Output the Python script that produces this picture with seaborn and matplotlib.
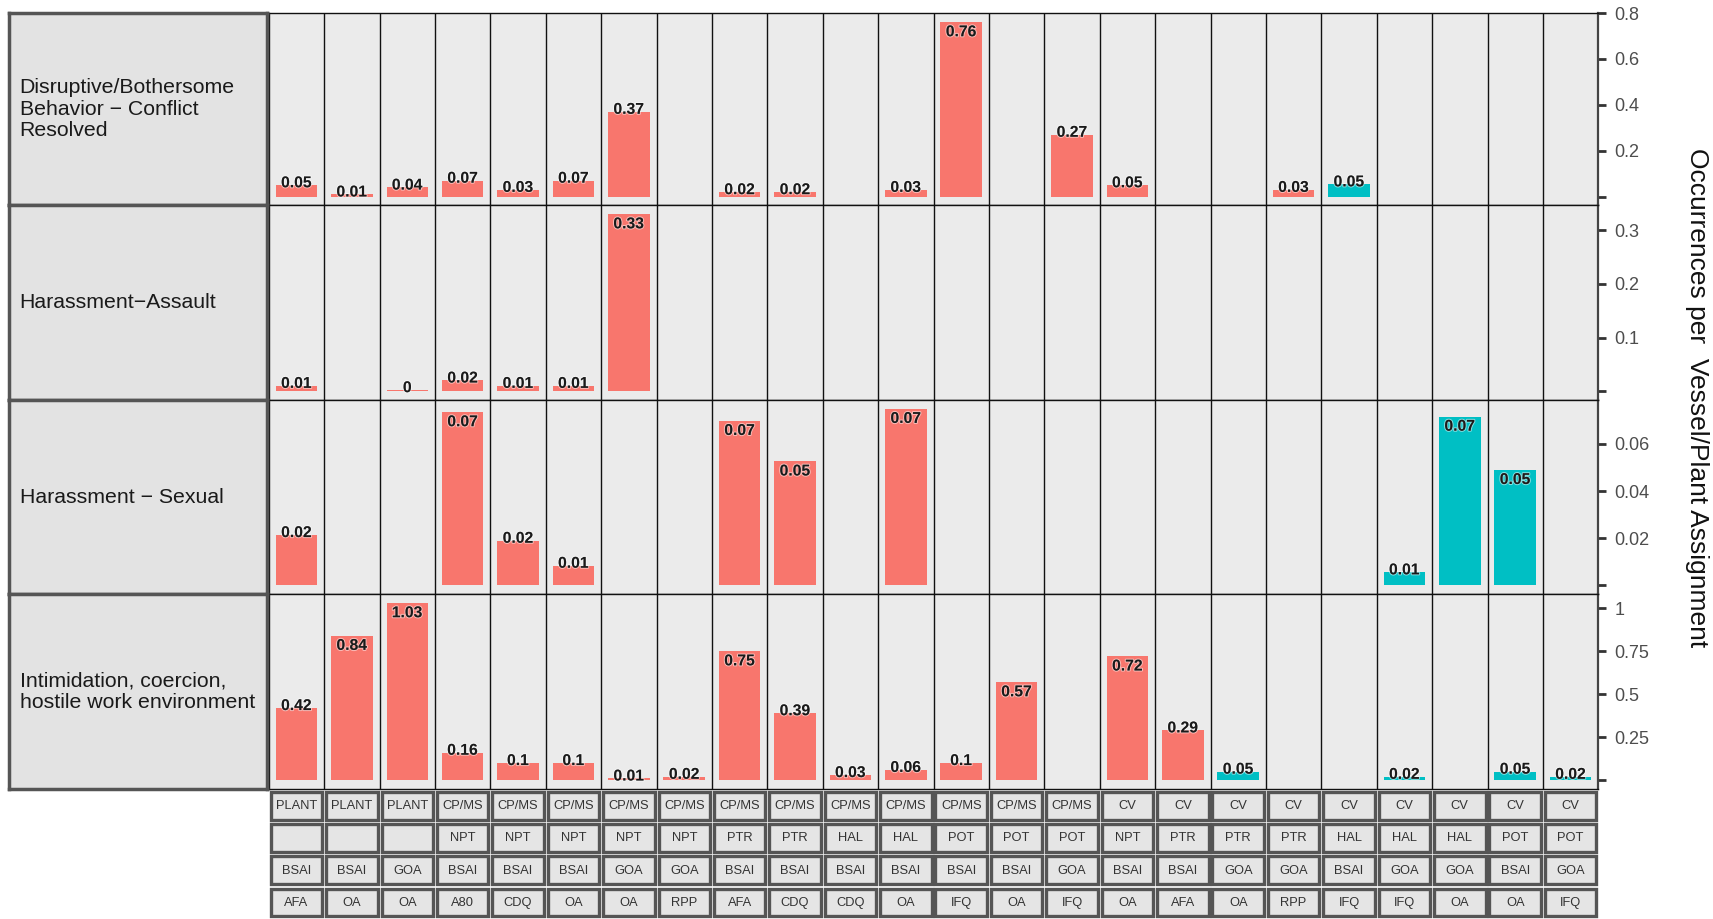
import numpy as np
import pandas as pd
import matplotlib
matplotlib.use("Agg")
import matplotlib.pyplot as plt
import seaborn as sns
from matplotlib.patches import Rectangle
import matplotlib.patheffects as pe

sns.set_theme(style="white")
plt.rcParams['font.family'] = ['Liberation Sans', 'DejaVu Sans']

# ---------------- data ----------------
sector = ["PLANT"] * 3 + ["CP/MS"] * 12 + ["CV"] * 9
gear = ["", "", "", "NPT", "NPT", "NPT", "NPT", "NPT", "PTR", "PTR", "HAL", "HAL",
        "POT", "POT", "POT", "NPT", "PTR", "PTR", "PTR", "HAL", "HAL", "HAL", "POT", "POT"]
area = ["BSAI", "BSAI", "GOA", "BSAI", "BSAI", "BSAI", "GOA", "GOA", "BSAI", "BSAI", "BSAI", "BSAI",
        "BSAI", "BSAI", "GOA", "BSAI", "BSAI", "GOA", "GOA", "BSAI", "GOA", "GOA", "BSAI", "GOA"]
program = ["AFA", "OA", "OA", "A80", "CDQ", "OA", "OA", "RPP", "AFA", "CDQ", "CDQ", "OA",
           "IFQ", "OA", "IFQ", "OA", "AFA", "OA", "RPP", "IFQ", "IFQ", "OA", "OA", "IFQ"]

facet_titles = ["Disruptive/Bothersome\nBehavior \u2212 Conflict\nResolved",
                "Harassment\u2212Assault",
                "Harassment \u2212 Sexual",
                "Intimidation, coercion,\nhostile work environment"]

N = None
disruptive = [0.05, 0.01, 0.04, 0.07, 0.03, 0.07, 0.37, N, 0.02, 0.02, N, 0.03,
              0.76, N, 0.27, 0.05, N, N, 0.03, 0.054, N, N, N, N]
disruptive_grp = ["A"] * 19 + ["B"] + ["A"] * 4

assault = [0.01, N, 0.002, 0.02, 0.01, 0.01, 0.33, N, N, N, N, N,
           N, N, N, N, N, N, N, N, N, N, N, N]
assault_grp = ["A"] * 24

sexual = [0.0214, N, N, 0.0735, 0.019, 0.0084, N, N, 0.0698, 0.0526, N, 0.0749,
          N, N, N, N, N, N, N, N, 0.0056, 0.0716, 0.049, N]
sexual_grp = ["A"] * 20 + ["B", "B", "B", "A"]

intimidation = [0.42, 0.84, 1.03, 0.16, 0.1, 0.1, 0.01, 0.02, 0.75, 0.39, 0.03, 0.06,
                0.1, 0.57, N, 0.72, 0.29, 0.05, N, N, 0.02, N, 0.05, 0.02]
intimidation_grp = ["A"] * 17 + ["B", "A", "A", "B", "A", "B", "B"]

rows_values = [disruptive, assault, sexual, intimidation]
rows_groups = [disruptive_grp, assault_grp, sexual_grp, intimidation_grp]

row_ticks = [[0, 0.2, 0.4, 0.6, 0.8], [0, 0.1, 0.2, 0.3], [0, 0.02, 0.04, 0.06], [0, 0.25, 0.5, 0.75, 1]]
row_ticklabels = [["", "0.2", "0.4", "0.6", "0.8"], ["", "0.1", "0.2", "0.3"],
                  ["", "0.02", "0.04", "0.06"], ["", "0.25", "0.5", "0.75", "1"]]

y_title = "Occurrences per  Vessel/Plant Assignment"
palette = {"A": "#F8766D", "B": "#00BFC4"}

# ---------------- layout ----------------
W, H = 1713, 919
fig = plt.figure(figsize=(W / 100, H / 100), dpi=100)
fig.patch.set_facecolor("white")

PL, PR = 268.8 / W, 1598.3 / W
SL, SR = 8.7 / W, 267.0 / W
row_edges = [13, 205.4, 400, 594.3, 789]
col_ids = [f"c{i:02d}" for i in range(24)]


def fmt(v):
    r = round(v, 2)
    s = f"{r:g}"
    return s


for r in range(4):
    top = 1 - row_edges[r] / H
    bot = 1 - row_edges[r + 1] / H
    ax = fig.add_axes([PL, bot, PR - PL, top - bot])
    vals = rows_values[r]
    df = pd.DataFrame({"col": col_ids, "value": vals, "group": rows_groups[r]})
    df = df.dropna(subset=["value"])
    sns.barplot(data=df, x="col", y="value", hue="group", order=col_ids,
                hue_order=["A", "B"], palette=palette, dodge=False, width=0.75,
                legend=False, ax=ax, saturation=1, errorbar=None, linewidth=0)
    ax.set_facecolor("#EBEBEB")
    vmax = np.nanmax([v for v in vals if v is not None])
    ax.set_xlim(-0.5, 23.5)
    ax.set_ylim(-0.05 * vmax, 1.05 * vmax)
    for k in range(23):
        ax.axvline(k + 0.5, color="#111111", lw=1.0, zorder=0.5)
    # value labels
    for i, v in enumerate(vals):
        if v is None:
            continue
        inside = v > 0.5 * vmax
        ax.annotate(fmt(v), (i, v), xytext=(0, -1.5), textcoords="offset points",
                    ha="center", va="top" if inside else "baseline",
                    fontsize=11.3, fontweight="bold", color="#1a1a1a", zorder=5,
                    path_effects=[pe.withStroke(linewidth=1.5, foreground=(1, 1, 1, 0.5))])
    ax.set_xlabel("")
    ax.set_ylabel("")
    ax.set_xticks([])
    ax.yaxis.tick_right()
    ax.set_yticks(row_ticks[r])
    ax.set_yticklabels(row_ticklabels[r])
    ax.tick_params(axis="y", which="major", right=True, left=False, length=5.5, width=2.0,
                   color="#333333", labelcolor="#4D4D4D", labelsize=13, pad=6)
    for side in ["top", "bottom", "left"]:
        ax.spines[side].set_color("#111111")
        ax.spines[side].set_linewidth(1.0)
    ax.spines["right"].set_color("#444444")
    ax.spines["right"].set_linewidth(1.6)

    # strip
    sax = fig.add_axes([SL, bot, SR - SL, top - bot])
    sax.set_facecolor("#E3E3E3")
    sax.set_xticks([])
    sax.set_yticks([])
    for s in sax.spines.values():
        s.set_color("#555555")
        s.set_linewidth(2.5)
    sax.text(11 / ((SR - SL) * W), 0.5, facet_titles[r], transform=sax.transAxes,
             ha="left", va="center", fontsize=15.3, color="#1a1a1a", linespacing=1.15)

# right axis title
fig.text(1697 / W, 1 - 398 / H, y_title, rotation=270, ha="center", va="center",
         fontsize=19, color="#111111")

# ---------------- label table ----------------
tax = fig.add_axes([PL, 0, PR - PL, (H - 790) / H])
tax.set_xlim(-0.5, 23.5)
tax.set_ylim(4, 0)
tax.axis("off")
table_rows = [sector, gear, area, program]
for rr, labels in enumerate(table_rows):
    for i, lab in enumerate(labels):
        tax.add_patch(Rectangle((i - 0.5 + 0.035, rr + 0.06), 0.93, 0.86,
                                facecolor="#E5E5E5", edgecolor="#555555", lw=2.4,
                                clip_on=False))
        if lab:
            tax.text(i, rr + 0.5, lab, ha="center", va="center", fontsize=9.3,
                     color="#333333")

fig.savefig("out.png", dpi=100)
